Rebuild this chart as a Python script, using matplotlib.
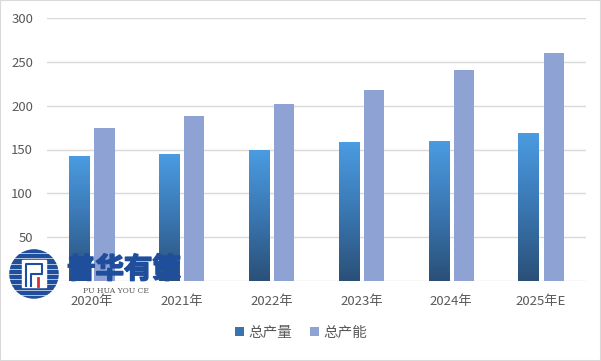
import numpy as np
import matplotlib
matplotlib.use("Agg")
import matplotlib.pyplot as plt
import matplotlib.patheffects as pe
from matplotlib.patches import Rectangle, Circle
from matplotlib.colors import LinearSegmentedColormap

plt.rcParams['font.family'] = ['Noto Sans CJK SC', 'DejaVu Sans']

categories = ['2020年', '2021年', '2022年', '2023年', '2024年', '2025年E']
output = [143, 145, 150, 158, 160, 169]
capacity = [175, 188, 202, 218, 241, 260]
series_names = ['总产量', '总产能']
yticks = [0, 50, 100, 150, 200, 250, 300]

W, H = 601, 361
fig = plt.figure(figsize=(W / 100, H / 100), dpi=100)
ax = fig.add_axes([47 / W, 1 - 281 / H, (586 - 47) / W, (281 - 18) / H])

x = np.arange(len(categories))
bw = 0.225
off = 0.14

grad = np.linspace(0, 1, 256).reshape(-1, 1)
cmap = LinearSegmentedColormap.from_list('g', ['#2a5078', '#3a77b2', '#4b9ce2'])

bars1 = ax.bar(x - off, output, bw, color='none', zorder=3)
for b in bars1:
    bx, by = b.get_x(), b.get_y()
    bwid, bh = b.get_width(), b.get_height()
    im = ax.imshow(grad, extent=[bx, bx + bwid, by, by + bh], origin='lower',
                   cmap=cmap, aspect='auto', zorder=3)
    im.set_clip_path(b)
bars2 = ax.bar(x + off, capacity, bw, color='#8fa2d4', zorder=3)

ax.set_xlim(-0.5, len(categories) - 0.5)
ax.set_ylim(0, 300)
ax.set_yticks(yticks)
ax.set_yticklabels([str(t) if t else '' for t in yticks])
ax.set_xticks(x)
ax.set_xticklabels(categories)
ax.grid(axis='y', color='#d9d9d9', linewidth=1, zorder=0)
ax.set_axisbelow(True)
for s in ax.spines.values():
    s.set_visible(False)
ax.tick_params(length=0, colors='#595959', labelsize=9.5, pad=10)
ax.tick_params(axis='x', pad=10)

# legend
h1 = Rectangle((0, 0), 1, 1, facecolor='#3a74ad')
h2 = Rectangle((0, 0), 1, 1, facecolor='#8fa2d4')
fig.legend([h1, h2], series_names, loc='center', bbox_to_anchor=(301 / W, 1 - 333 / H),
           ncol=2, frameon=False, fontsize=10.5, handlelength=0.6, handleheight=0.6,
           handletextpad=0.3, columnspacing=1.2, labelcolor='#595959')

# watermark logo
lax = fig.add_axes([8 / W, 1 - 300 / H, 52 / W, 52 / H])
lax.set_xlim(-1, 1); lax.set_ylim(-1, 1); lax.axis('off')
lax.set_aspect('equal')
circ = Circle((0, 0), 0.95, transform=lax.transData)
for yy in np.linspace(-0.9, 0.9, 10):
    r = lax.add_patch(Rectangle((-1, yy - 0.06), 2, 0.12, color='#1f4e9c'))
    r.set_clip_path(circ)
lax.add_patch(Rectangle((-0.45, -0.5), 0.9, 1.05, color='white'))
lax.plot([-0.3, -0.3, 0.3, 0.3, -0.1, -0.1], [-0.45, 0.4, 0.4, 0.0, 0.0, -0.45], color='#1f4e9c', lw=1.5)
lax.plot([0.15, 0.15], [-0.45, -0.15], color='#d83030', lw=2)
fig.text(67 / W, 1 - 270 / H, '普华有策', fontsize=20.5, fontweight='heavy', color='#1f4e9c',
         va='center', ha='left', family=['Noto Sans CJK SC'],
         path_effects=[pe.Stroke(linewidth=1.2, foreground='#1f4e9c'), pe.Normal()])
fig.text(83 / W, 1 - 291 / H, 'PU HUA YOU CE', fontsize=5.5, color='#555555', va='center',
         ha='left', family=['DejaVu Serif'])

# border
fig.add_artist(Rectangle((0, 0), 1, 1, transform=fig.transFigure, fill=False,
                         edgecolor='#d9d9d9', linewidth=1.5))

fig.savefig('out.png', dpi=100)
